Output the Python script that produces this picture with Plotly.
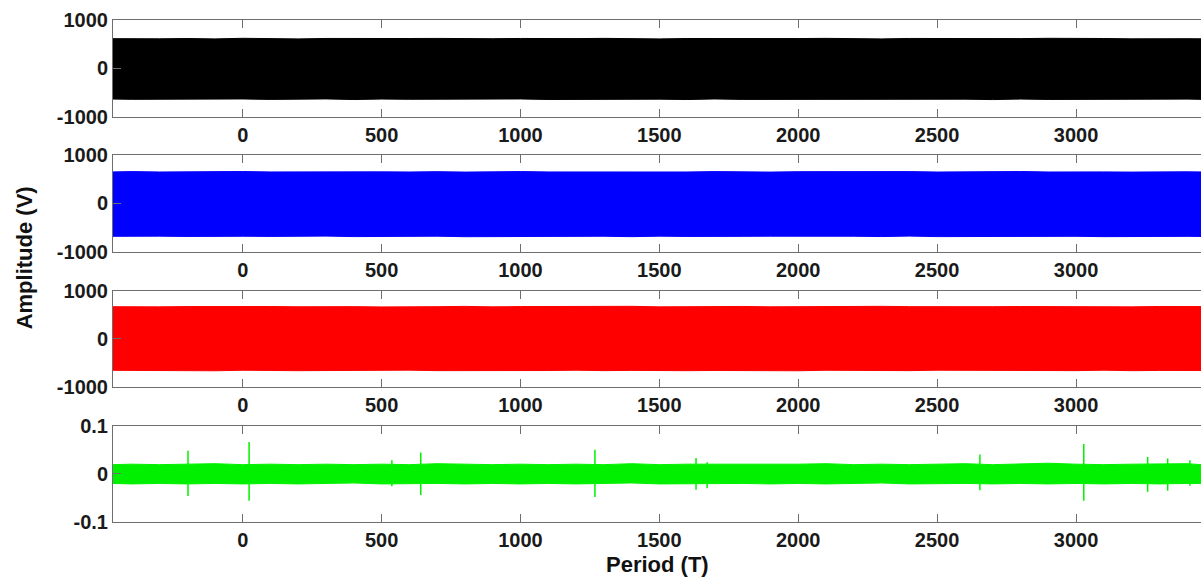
import plotly.graph_objects as go

# ---------------- data ----------------
period_range = [-467, 3450]
x_tickvals = [0, 500, 1000, 1500, 2000, 2500, 3000]

# envelope sample positions (Period, T)
env_period = [-467, -400, -300, -200, -100, 0, 100, 200, 300, 400, 500, 600, 700, 800,
              900, 1000, 1100, 1200, 1300, 1400, 1500, 1600, 1700, 1800, 1900, 2000,
              2100, 2200, 2300, 2400, 2500, 2600, 2700, 2800, 2900, 3000, 3100, 3200,
              3300, 3400, 3450]

# panel 1 (black) envelope, V
black_upper = [615, 620, 612, 618, 610, 622, 613, 610, 619, 615, 612, 618, 620, 610, 614,
               619, 612, 616, 621, 613, 610, 618, 614, 620, 611, 617, 621, 613, 610, 619,
               615, 620, 612, 616, 622, 613, 618, 611, 620, 614, 612]
black_lower = [-632, -638, -628, -640, -633, -630, -639, -635, -629, -642, -632, -637,
               -631, -640, -634, -630, -641, -636, -632, -639, -634, -642, -630, -639,
               -635, -632, -643, -637, -631, -640, -636, -634, -643, -632, -640, -635,
               -630, -641, -637, -633, -638]

# panel 2 (blue) envelope, V
blue_upper = [652, 658, 650, 656, 648, 660, 651, 655, 649, 658, 653, 650, 657, 648, 655,
              659, 651, 649, 657, 652, 656, 650, 658, 652, 648, 656, 660, 650, 654, 658,
              649, 655, 652, 660, 650, 656, 652, 648, 658, 654, 651]
blue_lower = [-678, -683, -674, -681, -685, -676, -680, -683, -673, -684, -677, -682,
              -675, -686, -679, -674, -683, -680, -676, -685, -674, -681, -684, -678,
              -675, -686, -680, -676, -683, -673, -684, -679, -676, -683, -681, -677,
              -685, -674, -682, -678, -680]

# panel 3 (red) envelope, V
red_upper = [665, 670, 662, 668, 673, 663, 669, 664, 671, 667, 661, 670, 666, 672, 662,
             668, 671, 664, 668, 673, 662, 669, 665, 671, 663, 668, 670, 664, 673, 667,
             662, 670, 666, 669, 664, 672, 668, 662, 670, 665, 668]
red_lower = [-655, -660, -652, -659, -664, -653, -658, -662, -652, -660, -656, -651,
             -661, -657, -654, -663, -659, -652, -661, -656, -652, -662, -658, -654,
             -660, -664, -653, -659, -655, -661, -652, -660, -663, -654, -658, -661,
             -652, -662, -657, -655, -659]

# panel 4 (green) envelope
green_upper = [0.019, 0.020, 0.019, 0.020, 0.021, 0.019, 0.020, 0.019, 0.020, 0.019,
               0.020, 0.019, 0.021, 0.020, 0.019, 0.020, 0.019, 0.020, 0.019, 0.021,
               0.019, 0.020, 0.020, 0.019, 0.019, 0.020, 0.021, 0.019, 0.020, 0.019,
               0.020, 0.021, 0.019, 0.020, 0.022, 0.020, 0.019, 0.020, 0.020, 0.021,
               0.019]
green_lower = [-0.020, -0.021, -0.020, -0.021, -0.020, -0.021, -0.020, -0.021, -0.020,
               -0.019, -0.021, -0.020, -0.020, -0.021, -0.020, -0.021, -0.020, -0.021,
               -0.020, -0.019, -0.021, -0.021, -0.020, -0.020, -0.021, -0.020, -0.021,
               -0.020, -0.019, -0.021, -0.021, -0.020, -0.021, -0.020, -0.021, -0.020,
               -0.021, -0.020, -0.021, -0.020, -0.020]

# green panel: isolated spikes
spike_period = [-197, 23, 537, 641, 1268, 1632, 1672, 2654, 3028, 3258, 3330, 3410]
spike_high = [0.048, 0.066, 0.028, 0.044, 0.050, 0.033, 0.024, 0.040, 0.062, 0.035, 0.032, 0.028]
spike_low = [-0.046, -0.056, -0.026, -0.044, -0.048, -0.033, -0.030, -0.034, -0.056, -0.037, -0.035, -0.025]

volt_ticks = [-1000, 0, 1000]
volt_ticktext = ["-1000", "0", "1000"]
small_ticks = [-0.1, 0, 0.1]
small_ticktext = ["-0.1", "0", "0.1"]

x_label = "Period (T)"
y_label = "Amplitude (V)"

# ---------------- figure ----------------
panels = [
    (black_upper, black_lower, "#000000", [-1000, 1000], volt_ticks, volt_ticktext),
    (blue_upper, blue_lower, "#0000ff", [-1000, 1000], volt_ticks, volt_ticktext),
    (red_upper, red_lower, "#ff0000", [-1000, 1000], volt_ticks, volt_ticktext),
    (green_upper, green_lower, "#00f000", [-0.1, 0.1], small_ticks, small_ticktext),
]

domains = [[0.807, 1.0], [0.538, 0.731], [0.269, 0.461], [0.0, 0.192]]

fig = go.Figure()
tick_font = dict(family="Liberation Sans, Arial, sans-serif", size=20, color="#1a1a1a", weight="bold")
axis_grey = "#6e6e6e"

for i, (up, lo, col, yr, tv, tt) in enumerate(panels, start=1):
    xs = env_period + env_period[::-1]
    ys = up + lo[::-1]
    fig.add_trace(go.Scatter(
        x=xs, y=ys, mode="lines", fill="toself", fillcolor=col,
        line=dict(color=col, width=1), xaxis=f"x{i}", yaxis=f"y{i}",
        hoverinfo="skip", showlegend=False))
    if i == 4:
        sx, sy = [], []
        for p, h, l in zip(spike_period, spike_high, spike_low):
            sx += [p, p, None]
            sy += [l, h, None]
        fig.add_trace(go.Scatter(
            x=sx, y=sy, mode="lines", line=dict(color=col, width=1.5),
            xaxis="x4", yaxis="y4", hoverinfo="skip", showlegend=False))

    xa = dict(domain=[0, 1], anchor=f"y{i}", range=period_range,
              tickvals=x_tickvals, ticks="inside", ticklen=8, tickcolor=axis_grey,
              showline=True, linecolor=axis_grey, linewidth=1, mirror="ticks",
              showgrid=False, zeroline=False, tickfont=tick_font, automargin=False)
    ya = dict(domain=domains[i - 1], anchor=f"x{i}", range=yr,
              tickvals=tv, ticktext=tt, ticks="inside", ticklen=8, tickcolor=axis_grey,
              showline=True, linecolor=axis_grey, linewidth=1,
              showgrid=False, zeroline=False, tickfont=tick_font, automargin=False)
    key = "" if i == 1 else str(i)
    fig.layout["xaxis" + key] = xa
    fig.layout["yaxis" + key] = ya

title_font = dict(family="Liberation Sans, Arial, sans-serif", size=22, color="#111111", weight="bold")
fig.add_annotation(text=x_label, xref="paper", yref="paper", x=0.5, y=-0.085,
                   xanchor="center", yanchor="middle", showarrow=False, font=title_font)
fig.add_annotation(text=y_label, xref="paper", yref="paper", x=-0.0805, y=0.526,
                   xanchor="center", yanchor="middle", textangle=-90, showarrow=False,
                   font=title_font)

fig.update_layout(
    width=1201, height=580,
    margin=dict(l=113, r=0, t=20, b=58),
    paper_bgcolor="white", plot_bgcolor="white",
    showlegend=False,
)

fig.write_html("out.html", config={"displayModeBar": False},
               post_script="document.body.style.margin='0px';document.body.style.overflow='hidden';")
